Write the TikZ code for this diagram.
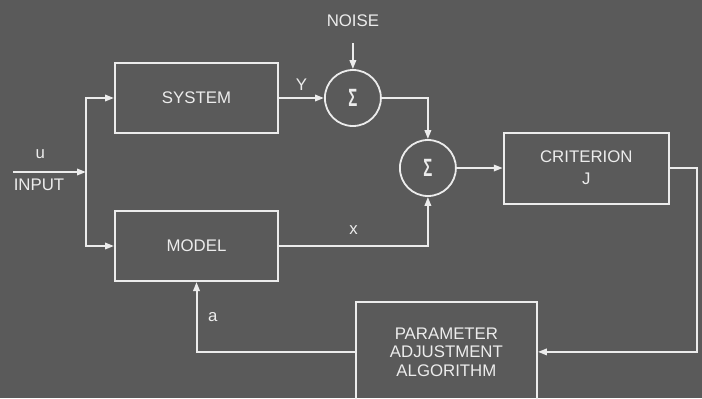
\documentclass[tikz,border=0pt]{standalone}
\usepackage{fontspec}
\setmainfont{Liberation Sans}
\usepackage{graphicx}
\usepackage{tikz}
\usetikzlibrary{arrows.meta, positioning, calc}
\usepackage{xcolor}
\definecolor{bggray}{RGB}{90,90,90}
\definecolor{ink}{RGB}{236,236,236}

\begin{document}
\begin{tikzpicture}[
    x=0.5pt, y=-0.5pt,
    font=\fontsize{8.4}{9.3}\selectfont,
    every node/.style={text=ink},
    node distance=38pt and 22.5pt,
    block/.style={draw=ink, line width=1pt, minimum width=81.5pt,
                  minimum height=35pt, align=center},
    sum/.style={draw=ink, line width=0.9pt, circle, minimum size=28pt,
                inner sep=0pt, font=\fontsize{12.5}{12.5}\selectfont\bfseries},
    lbl/.style={inner sep=2.8pt},
    arrow/.style={draw=ink, line width=1pt,
                  -{Triangle[length=4.5pt, width=3.2pt]}},
    wire/.style={draw=ink, line width=1pt}
]
\clip (0,0) rectangle (702,398);
\fill[bggray] (0,0) rectangle (702,398);

% --- Forward branch ---
\node[block] (system) at (196.5,98) {SYSTEM};
\node[block, below=of system] (model) {MODEL};
\node[sum, right=of system] (sum1) {\scalebox{0.6}[1]{Σ}};
\node[lbl, above=18pt of sum1] (noise) {NOISE};
\node[sum] (sum2) at ([xshift=37.5pt, yshift=-35pt]sum1.center)
     {\scalebox{0.6}[1]{Σ}};
\node[block, right=23pt of sum2, minimum width=82.5pt,
      minimum height=35.5pt] (crit) {CRITERION\\[1.7pt]J};
\node[block, below=52pt of sum2, xshift=9.25pt, minimum width=90.5pt,
      minimum height=50pt] (param) {PARAMETER\\ADJUSTMENT\\ALGORITHM};

% --- Input ---
\coordinate (split) at ([xshift=-14pt]$(system.west)!0.5!(model.west)$);
\node[lbl, inner xsep=0pt] (input) at ([xshift=-23.5pt, yshift=-6.5pt]split)
     {INPUT};
\draw[arrow] (input.west |- split) -- (split)
     node[pos=0.37, above=3pt] {u};
\draw[arrow] (split) |- (system.west);
\draw[arrow] (split) |- (model.west);

% --- Outputs and comparison ---
\draw[arrow, shorten <=5pt] (noise) -- (sum1);
\draw[arrow] (system) -- (sum1) node[midway, above] {Y};
\draw[arrow] (sum1.east) -| (sum2.north);
\draw[arrow] (model.east) -| (sum2.south)
     node[pos=0.25, above=2pt] {x};
\draw[arrow] (sum2) -- (crit);

% --- Adjustment loop ---
\draw[arrow] (crit.east) -- ++(13.5pt,0) |- (param.east);
\draw[arrow] (param.west) -| (model.south)
     node[pos=0.75, right=2pt] {a};

\end{tikzpicture}
\end{document}
